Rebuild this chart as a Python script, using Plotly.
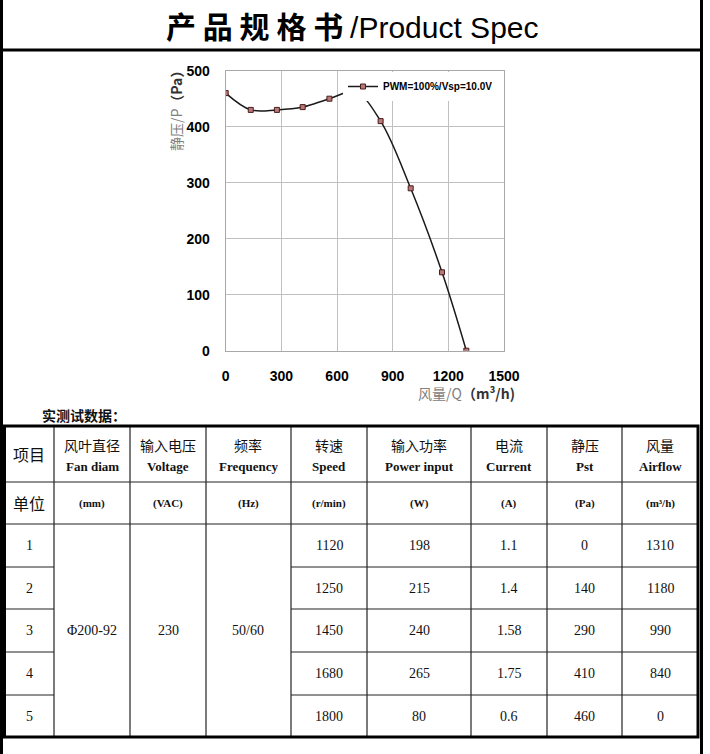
import plotly.graph_objects as go

W, H = 710, 754

# ---------------- chart data ----------------
q_curve = [0, 135, 276, 415, 559, 700, 835, 997, 1166, 1297]
p_curve = [460, 430, 430, 435, 450, 462, 410, 290, 140, 0]
series_name = "PWM=100%/Vsp=10.0V"
x_ticks = [0, 300, 600, 900, 1200, 1500]
y_ticks = [0, 100, 200, 300, 400, 500]

# ---------------- table data ----------------
header_cn = ["项目", "风叶直径", "输入电压", "频率", "转速", "输入功率", "电流", "静压", "风量"]
header_en = ["", "Fan diam", "Voltage", "Frequency", "Speed", "Power input", "Current", "Pst", "Airflow"]
units = ["单位", "(mm)", "(VAC)", "(Hz)", "(r/min)", "(W)", "(A)", "(Pa)", "(m³/h)"]
row_ids = ["1", "2", "3", "4", "5"]
fan_diam = "Φ200-92"
voltage = "230"
frequency = "50/60"
speed = [1120, 1250, 1450, 1680, 1800]
power = [198, 215, 240, 265, 80]
current = ["1.1", "1.4", "1.58", "1.75", "0.6"]
pst = [0, 140, 290, 410, 460]
airflow = [1310, 1180, 990, 840, 0]

title_cn = "产 品 规 格 书 "
title_en = "Product Spec"
table_caption = "实测试数据："

# ---------------- layout helpers ----------------
def px(x):
    return x / W

def py(y):
    return 1 - y / H

CJK = "Noto Sans CJK SC"
SERIF = "Liberation Serif"
SANS = "Liberation Sans"

fig = go.Figure()
fig.add_trace(go.Scatter(
    x=q_curve, y=p_curve, name=series_name, mode="lines+markers",
    line=dict(color="#1a1a1a", width=1.5, shape="spline", smoothing=1.0),
    marker=dict(symbol="square", size=5, color="#b87878",
                line=dict(color="#4a1c1c", width=1)),
))

shapes = []
annotations = []

def line(x0, y0, x1, y1, w=1.2, c="#222222"):
    shapes.append(dict(type="line", xref="paper", yref="paper",
                       x0=px(x0), y0=py(y0), x1=px(x1), y1=py(y1),
                       line=dict(color=c, width=w)))

def text(x, y, s, size=14, family=SERIF, color="#111111", xanchor="center"):
    annotations.append(dict(xref="paper", yref="paper", x=px(x), y=py(y),
                            text=s, showarrow=False, xanchor=xanchor,
                            yanchor="middle",
                            font=dict(size=size, family=family, color=color)))

# page frame
line(1.5, 0, 1.5, H, w=3, c="#000000")
line(701.5, 0, 701.5, H, w=3, c="#000000")
line(0, 50, 703, 50, w=3, c="#000000")

# title
annotations.append(dict(
    xref="paper", yref="paper", x=px(352), y=py(25), showarrow=False,
    xanchor="center", yanchor="middle",
    text=f'<span style="font-family:{CJK};font-weight:bold">{title_cn}</span>/{title_en}',
    font=dict(size=30, family="Liberation Sans Narrow, Arial Narrow, Liberation Sans", color="#000000")))

# axis titles
annotations.append(dict(
    xref="paper", yref="paper", x=px(176), y=py(108), showarrow=False,
    xanchor="center", yanchor="middle", textangle=-90,
    text='<span style="color:#808080">静压/P</span><b>（Pa）</b>',
    font=dict(size=14, family=CJK, color="#333333")))
annotations.append(dict(
    xref="paper", yref="paper", x=px(517), y=py(393), showarrow=False,
    xanchor="right", yanchor="middle",
    text='<span style="color:#808080">风量/Q</span><b>（m³/h)</b>',
    font=dict(size=14, family=CJK, color="#333333")))

# table
col_x = [4.5, 54, 130, 206, 291, 367, 471, 547, 622, 698]
row_y = [426, 482, 524, 567, 609, 652, 695, 737]
centers = [(col_x[i] + col_x[i + 1]) / 2 for i in range(len(col_x) - 1)]
rc = [(row_y[i] + row_y[i + 1]) / 2 for i in range(len(row_y) - 1)]

text(40, 415, f"<b>{table_caption}</b>", size=14, family=CJK, xanchor="left")

# inner lines
for xv in col_x[1:-1]:
    line(xv, row_y[0], xv, row_y[-1])
line(col_x[0], row_y[1], col_x[-1], row_y[1])
line(col_x[0], row_y[2], col_x[-1], row_y[2])
for yv in row_y[3:-1]:
    line(col_x[0], yv, col_x[1], yv)
    line(col_x[4], yv, col_x[-1], yv)
# outer border
shapes.append(dict(type="rect", xref="paper", yref="paper",
                   x0=px(col_x[0]), y0=py(row_y[0]), x1=px(col_x[-1]), y1=py(row_y[-1]),
                   line=dict(color="#000000", width=3)))

# header
text(centers[0], (row_y[0] + row_y[1]) / 2, header_cn[0], size=16, family=CJK)
for i in range(1, 9):
    text(centers[i], 445, header_cn[i], size=14, family=CJK)
    text(centers[i], 466, f"<b>{header_en[i]}</b>", size=13, family=SERIF)
# units
text(centers[0], rc[1], units[0], size=16, family=CJK)
for i in range(1, 9):
    text(centers[i], rc[1], f"<b>{units[i]}</b>", size=11, family=SERIF)
# data
merged_y = (row_y[2] + row_y[-1]) / 2
text(centers[1], merged_y, fan_diam, size=14)
text(centers[2], merged_y, voltage, size=14)
text(centers[3], merged_y, frequency, size=14)
for r in range(5):
    cy = rc[2 + r]
    vals = [row_ids[r], None, None, None, speed[r], power[r], current[r], pst[r], airflow[r]]
    for i, v in enumerate(vals):
        if v is None:
            continue
        text(centers[i], cy, str(v), size=14)

axis_common = dict(showgrid=True, gridcolor="#c0c0c0", gridwidth=1,
                   showline=True, linecolor="#a8a8a8", linewidth=1, mirror=True,
                   zeroline=False, ticks="", automargin=False,
                   tickfont=dict(size=14, family=SANS, color="#000000", weight="bold"),
                   ticklabelstandoff=12, fixedrange=True)

fig.update_layout(
    width=W, height=H, autosize=False,
    margin=dict(l=0, r=0, t=0, b=0, pad=0, autoexpand=False),
    paper_bgcolor="white", plot_bgcolor="white",
    xaxis=dict(domain=[px(225.7), px(504)], range=[0, 1500], tickvals=x_ticks, **axis_common),
    yaxis=dict(domain=[py(350.7), py(70.7)], range=[0, 500], tickvals=y_ticks, **axis_common),
    showlegend=True,
    legend=dict(x=px(343), y=py(72), xanchor="left", yanchor="top",
                bgcolor="white", borderwidth=0,
                font=dict(size=10, family=SANS, color="#000000", weight="bold"),
                itemwidth=30),
    shapes=shapes,
    annotations=annotations,
)

# reset the default page margin before the plot is laid out
reset_css = (
    "data:text/javascript,"
    "document.documentElement.style.margin='0';"
    "document.body.style.margin='0';"
    "document.body.style.overflow='hidden';//.js"
)

fig.write_html(
    "out.html",
    config={"displayModeBar": False},
    include_mathjax=reset_css,
    post_script="document.body.style.margin='0';document.body.style.overflow='hidden';",
)
